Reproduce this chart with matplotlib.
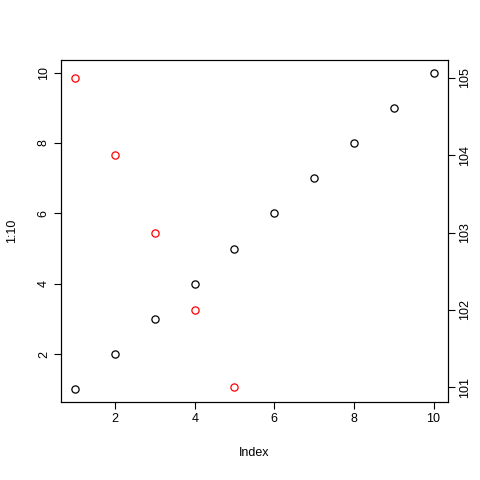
import matplotlib
matplotlib.use("Agg")
import matplotlib.pyplot as plt

idx = list(range(1, 11))
left_vals = list(range(1, 11))
red_idx = [1, 2, 3, 4, 5]
red_vals = [105, 104, 103, 102, 101]

plt.rcParams["font.family"] = ["Liberation Sans", "DejaVu Sans"]
plt.rcParams["font.size"] = 9

fig = plt.figure(figsize=(4.8, 4.8), dpi=100)
ax = fig.add_axes([0.127, 0.1625, 0.806, 0.7125])
ax.plot(idx, left_vals, "o", mfc="none", mec="black", ms=5.2, mew=0.9)
ax.set_xlim(0.64, 10.36)
ax.set_ylim(0.64, 10.36)
ax.set_xticks([2, 4, 6, 8, 10])
ax.set_yticks([2, 4, 6, 8, 10])
ax.set_xlabel("Index", labelpad=16)
ax.set_ylabel("1:10", labelpad=14)
for lab in ax.get_yticklabels():
    lab.set_rotation(90)
    lab.set_va("center")

ax2 = ax.twinx()
ax2.plot(red_idx, red_vals, "o", mfc="none", mec="red", ms=5.2, mew=0.9)
ax2.set_ylim(100.81, 105.23)
ax2.set_yticks([101, 102, 103, 104, 105])
for lab in ax2.get_yticklabels():
    lab.set_rotation(90)
    lab.set_va("center")

for a in (ax, ax2):
    a.tick_params(length=5, width=0.8, pad=3)
    for s in a.spines.values():
        s.set_linewidth(0.8)

fig.savefig("out.png", dpi=100)
